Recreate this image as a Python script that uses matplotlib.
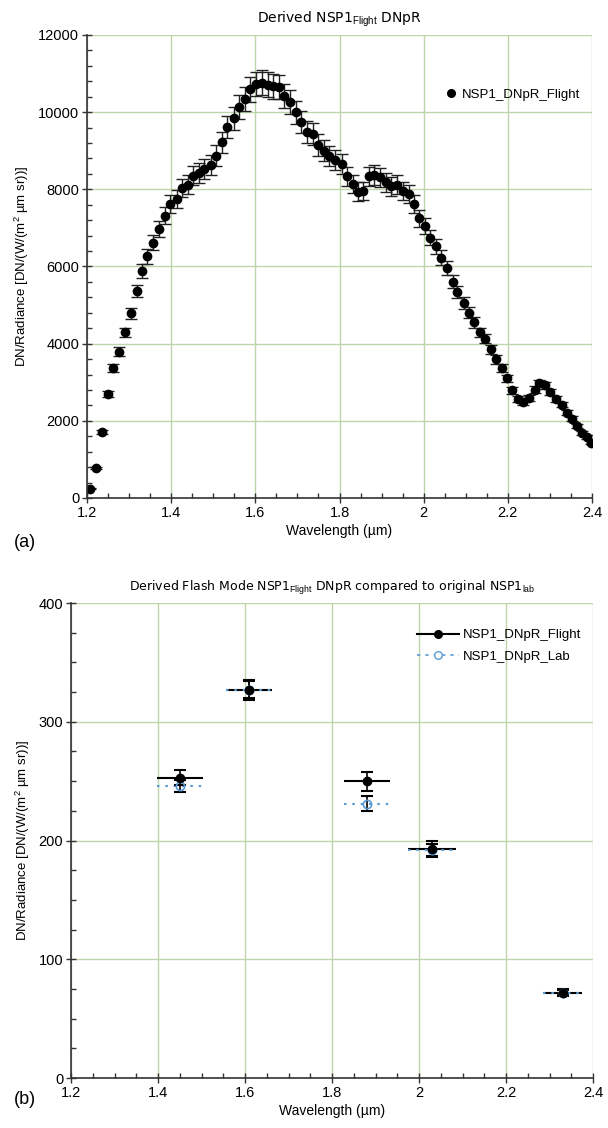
import numpy as np
import matplotlib.pyplot as plt
from matplotlib.ticker import MultipleLocator, FuncFormatter
from matplotlib.lines import Line2D

plt.rcParams['font.family'] = ['Liberation Sans', 'DejaVu Sans']
plt.rcParams['mathtext.fontset'] = 'custom'
plt.rcParams['mathtext.rm'] = 'Liberation Sans'
plt.rcParams['mathtext.it'] = 'Liberation Sans:italic'

# (a) derived flight DNpR spectrum
wavelength_a = [1.207, 1.221, 1.235, 1.251, 1.261, 1.277, 1.290, 1.304, 1.318, 1.331,
                1.343, 1.358, 1.371, 1.385, 1.397, 1.413, 1.425, 1.439, 1.453, 1.466,
                1.479, 1.494, 1.506, 1.521, 1.533, 1.549, 1.561, 1.575, 1.588, 1.602,
                1.615, 1.630, 1.643, 1.657, 1.669, 1.683, 1.697, 1.709, 1.722, 1.736,
                1.750, 1.764, 1.776, 1.790, 1.806, 1.818, 1.831, 1.843, 1.856, 1.869,
                1.883, 1.897, 1.910, 1.923, 1.936, 1.950, 1.964, 1.976, 1.989, 2.004,
                2.016, 2.029, 2.042, 2.055, 2.069, 2.080, 2.095, 2.107, 2.119, 2.134,
                2.146, 2.160, 2.172, 2.186, 2.199, 2.211, 2.223, 2.236, 2.250, 2.264,
                2.275, 2.289, 2.301, 2.315, 2.329, 2.341, 2.352, 2.364, 2.376, 2.388,
                2.398]
dnpr_a = [240, 770, 1700, 2700, 3380, 3790, 4290, 4790, 5370, 5890,
          6260, 6620, 6970, 7310, 7620, 7750, 8030, 8120, 8350, 8420,
          8530, 8630, 8870, 9220, 9620, 9840, 10140, 10330, 10590, 10730,
          10760, 10710, 10670, 10650, 10430, 10270, 10000, 9740, 9480, 9440,
          9150, 9000, 8860, 8760, 8660, 8340, 8140, 7940, 7960, 8340,
          8370, 8310, 8180, 8080, 8120, 7950, 7880, 7620, 7250, 7050,
          6750, 6520, 6230, 5960, 5600, 5340, 5050, 4800, 4550, 4290,
          4130, 3850, 3590, 3380, 3100, 2790, 2570, 2480, 2580, 2810,
          2970, 2920, 2740, 2570, 2420, 2210, 2060, 1860, 1690, 1580,
          1430]
rel_err_a = 0.03

# (b) flash mode bands, flight vs lab
band_center = [1.45, 1.61, 1.88, 2.03, 2.33]
band_half = [0.053, 0.053, 0.053, 0.055, 0.045]
dnpr_flight = [253, 327, 250, 193, 72]
err_flight = [6, 8.5, 8, 6.5, 3]
dnpr_lab = [246, 327, 231, 192, 72]
err_lab = [5, 7, 6.5, 5, 2]

grid_col = '#bdd5a9'
axis_col = '#333333'
lab_col = '#5b9bd5'


def style_axes(ax, ymaj, ymin):
    ax.set_axisbelow(True)
    ax.grid(True, which='major', color=grid_col, lw=1)
    for s in ['top', 'right']:
        ax.spines[s].set_visible(False)
    for s in ['left', 'bottom']:
        ax.spines[s].set_color(axis_col)
        ax.spines[s].set_linewidth(1.2)
    ax.xaxis.set_major_locator(MultipleLocator(0.2))
    ax.xaxis.set_minor_locator(MultipleLocator(0.05))
    ax.yaxis.set_major_locator(MultipleLocator(ymaj))
    ax.yaxis.set_minor_locator(MultipleLocator(ymin))
    ax.xaxis.set_major_formatter(FuncFormatter(lambda v, p: '%g' % round(v, 2)))
    ax.tick_params(which='major', direction='inout', length=7, width=1,
                   color=axis_col, labelsize=10.5, pad=2)
    ax.tick_params(which='minor', direction='in', length=3.5, width=1, color=axis_col)
    ax.set_xlim(1.2, 2.4)
    ax.set_xlabel('Wavelength (\u00b5m)', fontsize=10, labelpad=3)
    ax.set_ylabel('DN/Radiance [DN/(W/(m$^2$ \u00b5m sr))]', fontsize=9.5, labelpad=5)


fig = plt.figure(figsize=(6.08, 11.28), dpi=100)

# panel (a)
ax1 = fig.add_axes([87 / 608, 1 - 498 / 1128, 505 / 608, 463 / 1128])
yerr_a = np.array(dnpr_a) * rel_err_a
ax1.errorbar(wavelength_a, dnpr_a, yerr=yerr_a, fmt='o', color='black', ms=6,
             ecolor='#222222', elinewidth=1, capsize=4, capthick=1)
style_axes(ax1, 2000, 400)
ax1.set_ylim(0, 12000)
ax1.set_title('Derived NSP1$_{\\mathrm{Flight}}$ DNpR', fontsize=10,
              family='DejaVu Sans', pad=9)
h1 = [Line2D([], [], ls='none', marker='o', color='black', ms=5.5)]
ax1.legend(h1, ['NSP1_DNpR_Flight'], loc='upper right', frameon=False,
           fontsize=9.5, handlelength=0.8, handletextpad=0.4,
           bbox_to_anchor=(1.0, 0.91))
fig.text(25 / 608, 1 - 542 / 1128, '(a)', fontsize=13, ha='center', va='center')

# panel (b)
ax2 = fig.add_axes([71 / 608, 1 - 1078 / 1128, 522 / 608, 475 / 1128])
ax2.errorbar(band_center, dnpr_flight, xerr=band_half, fmt='none',
             ecolor='black', elinewidth=1.5, capsize=0, zorder=2)
eb = ax2.errorbar(band_center, dnpr_lab, xerr=band_half, fmt='none',
                  ecolor=lab_col, elinewidth=1.5, capsize=0, zorder=3)
eb[2][0].set_linestyle((0, (1.2, 2.8)))
ax2.errorbar(band_center, dnpr_flight, yerr=err_flight, fmt='none',
             ecolor='black', elinewidth=1.2, capsize=4, capthick=1.5, zorder=4)
ax2.errorbar(band_center, dnpr_lab, yerr=err_lab, fmt='none',
             ecolor='black', elinewidth=1.2, capsize=4, capthick=1.5, zorder=4)
ax2.plot(band_center, dnpr_lab, 'o', mfc='none', mec=lab_col, mew=1.2, ms=6, zorder=5)
ax2.plot(band_center, dnpr_flight, 'o', color='black', ms=6, zorder=6)
style_axes(ax2, 100, 25)
ax2.set_ylim(0, 400)
ax2.set_title('Derived Flash Mode NSP1$_{\\mathrm{Flight}}$ DNpR compared to original NSP1$_{\\mathrm{lab}}$',
              fontsize=9, family='DejaVu Sans', pad=9)
h2 = [Line2D([], [], color='black', lw=1.5, marker='o', ms=5.5),
      Line2D([], [], color=lab_col, lw=1.2, ls=(0, (2, 3)), marker='o',
             mfc='white', mec=lab_col, ms=5.5)]
ax2.legend(h2, ['NSP1_DNpR_Flight', 'NSP1_DNpR_Lab'], loc='upper right',
           frameon=False, fontsize=9.5, handlelength=3.2, handletextpad=0.3,
           labelspacing=0.7, bbox_to_anchor=(1.0, 0.97))
fig.text(25 / 608, 1 - 1100 / 1128, '(b)', fontsize=13, ha='center', va='center')

fig.savefig('out.png', dpi=100)
